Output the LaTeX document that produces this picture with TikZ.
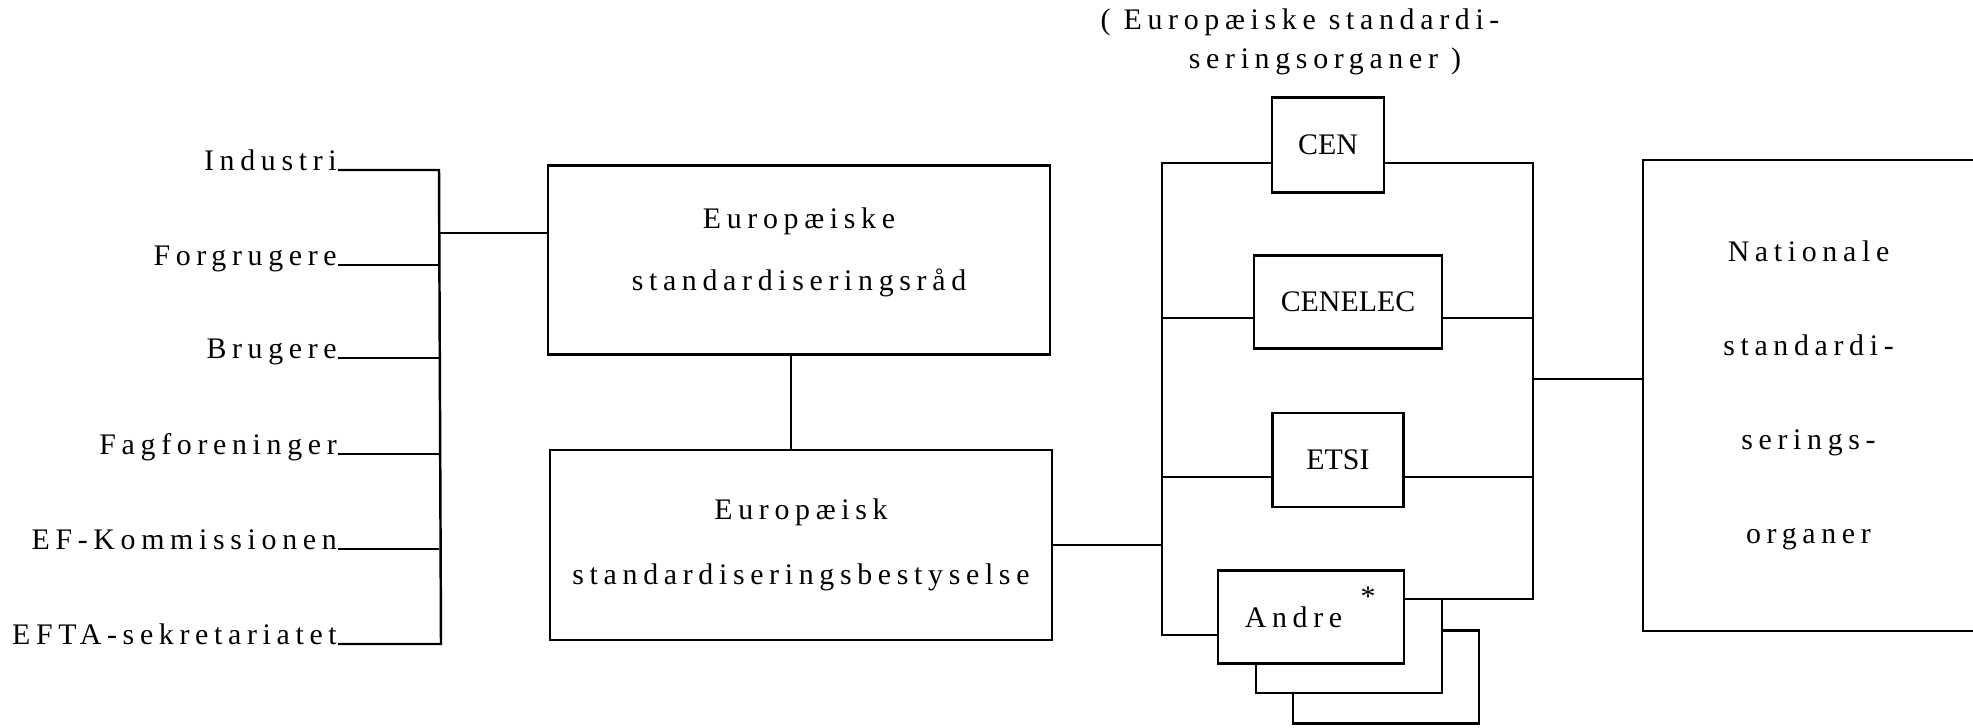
\documentclass[tikz,border=0pt]{standalone}
\usepackage{fontspec}
\setmainfont{Liberation Serif}
\newfontfamily\spredt{Liberation Serif}[LetterSpace=19]
\usepackage{tikz}
\usetikzlibrary{positioning, calc}

\begin{document}
\begin{tikzpicture}[x=0.02cm, y=-0.02cm, line width=1.4pt,
    boks/.style={draw, rectangle, inner sep=0pt, fill=white},
    tekst/.style={font=\spredt\fontsize{17}{20}\selectfont, inner sep=0pt},
    org/.style={boks, font=\fontsize{17}{20}\selectfont}]
    \useasboundingbox (0,0) rectangle (1973,727);

    % Interessenter
    \coordinate (vbusT) at (439,170);
    \coordinate (vbusB) at (441,644);
    \foreach \n/\t/\y in {ind/Industri/170, forb/Forgrugere/265, brug/Brugere/358,
        fag/Fagforeninger/454, efk/EF-Kommissionen/549, efta/EFTA-sekretariatet/644} {
        \node[tekst, anchor=base east] (\n) at (338,\y) {\t};
    }
    \draw (ind.base east) -- (vbusT) -- (vbusB) -- (efta.base east);
    \foreach \n in {forb, brug, fag, efk}
        \draw (\n.base east) -- (\n.base east -| vbusT);

    % Raad og bestyrelse
    \node[boks, align=center, font=\spredt\fontsize{17}{35}\selectfont, text depth=0.43cm,
        minimum width=10.04cm, minimum height=3.78cm] (raad) at (799,260)
        {Europæiske\\standardiseringsråd};
    \node[boks, align=center, font=\spredt\fontsize{17}{37}\selectfont,
        minimum width=10.04cm, minimum height=3.8cm] (best) at (801,545)
        {Europæisk\\standardiseringsbestyselse};
    \coordinate (vj) at (439,233);
    \draw (vj) -- (vj -| raad.west);
    \draw ([xshift=-0.16cm]raad.south) -- ([xshift=-0.16cm]raad.south |- best.north);

    % Europaeiske organer
    \node[tekst, align=center, font=\spredt\fontsize{17}{22}\selectfont] (overskrift) at (1300,42)
        {( Europæiske standardi-\\\hspace*{1.0cm}seringsorganer )};
    \node[org, minimum width=2.24cm, minimum height=1.9cm] (cen) at (1328,145) {CEN};
    \node[org, minimum width=3.76cm, minimum height=1.86cm] (cenelec) at (1348,302) {CENELEC};
    \node[org, minimum width=2.62cm, minimum height=1.88cm] (etsi) at (1338,460) {ETSI};
    \node[boks, minimum width=3.72cm, minimum height=1.86cm] (andre3) at (1386,677) {};
    \node[boks, minimum width=3.72cm, minimum height=1.88cm] (andre2) at (1349,646) {};
    \node[boks, tekst, minimum width=3.72cm, minimum height=1.86cm] (andre) at (1311,617)
        {Andre\hspace*{0.7cm}};
    \node[font=\fontsize{17}{20}\selectfont, inner sep=0pt] (stjerne) at (1368,597) {*};

    \coordinate (cbusT) at (1162,163);
    \coordinate (cbusB) at (1162,635);
    \coordinate (rbusT) at (1533,163);
    \coordinate (rbusB) at (1533,599);
    \draw (cen.west |- cbusT) -- (cbusT) -- (cbusB) -- (cbusB -| andre.west);
    \draw (cen.east |- rbusT) -- (rbusT) -- (rbusB) -- (rbusB -| andre.east);
    \foreach \n/\y in {cenelec/318, etsi/477} {
        \coordinate (h-\n) at (1162,\y);
        \draw (h-\n) -- (h-\n -| \n.west);
        \draw (\n.east |- h-\n) -- (h-\n -| rbusT);
    }
    \draw (best.east) -- (best.east -| cbusT);

    % Nationale organer
    \node[tekst, align=center, font=\spredt\fontsize{17}{53.5}\selectfont,
        minimum width=6.58cm, minimum height=9.38cm] (nat) at (1808.5,395.5)
        {Nationale\\standardi-\\serings-\\organer};
    \draw (nat.north east) -- (nat.north west) -- (nat.south west) -- (nat.south east);
    \coordinate (hj) at (1533,379);
    \draw (hj) -- (hj -| nat.west);
\end{tikzpicture}
\end{document}
